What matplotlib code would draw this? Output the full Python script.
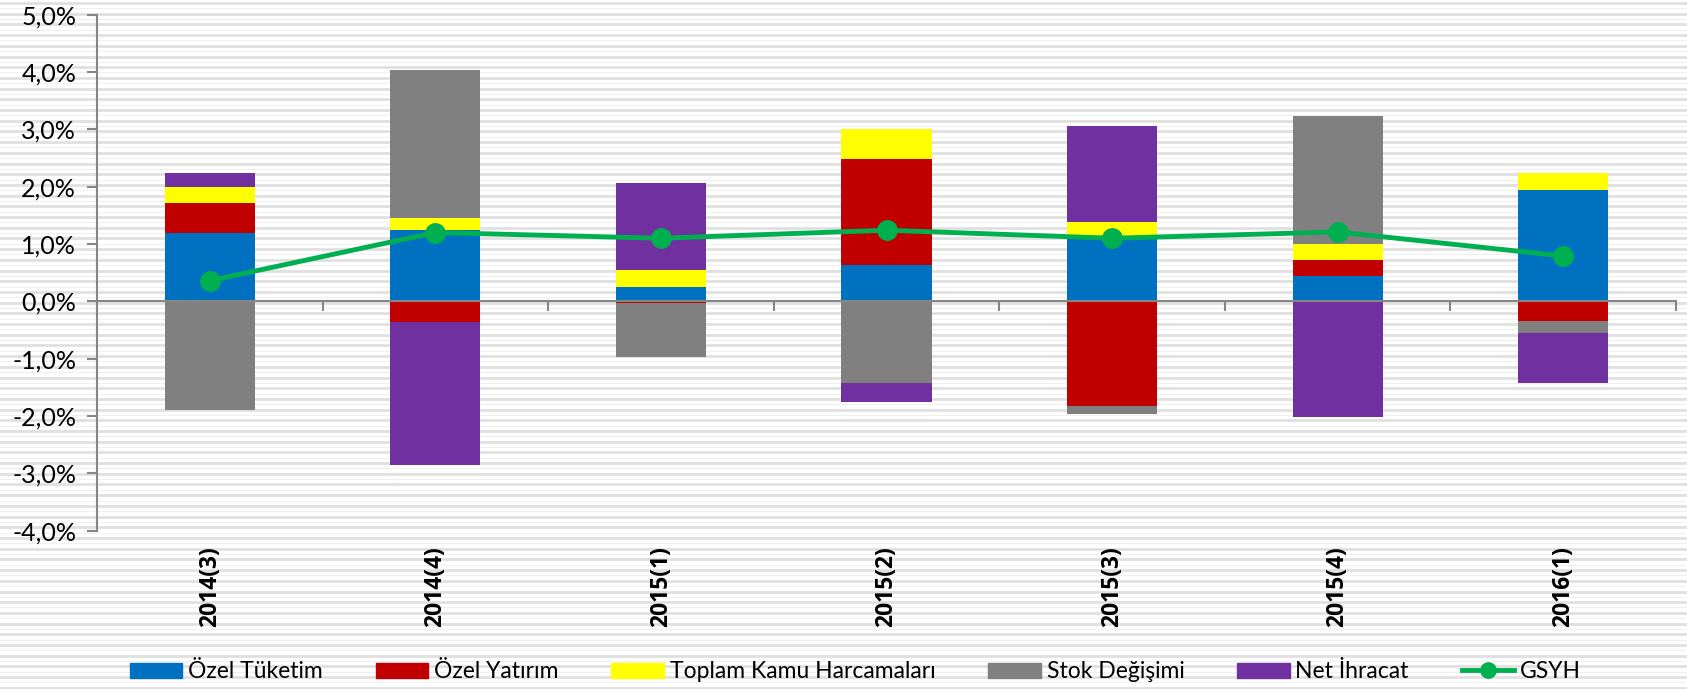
import matplotlib
matplotlib.use('Agg')
import matplotlib.pyplot as plt
import numpy as np
from matplotlib.lines import Line2D
from matplotlib.patches import Patch

plt.rcParams['font.family'] = ['Lato', 'DejaVu Sans']

quarters = ['2014(3)', '2014(4)', '2015(1)', '2015(2)', '2015(3)', '2015(4)', '2016(1)']
ozel_tuketim = [1.19, 1.25, 0.25, 0.63, 1.10, 0.45, 1.94]
ozel_yatirim = [0.53, -0.36, -0.03, 1.85, -1.82, 0.27, -0.35]
kamu = [0.28, 0.20, 0.30, 0.52, 0.28, 0.28, 0.30]
stok = [-1.90, 2.59, -0.94, -1.42, -0.14, 2.24, -0.21]
net_ihracat = [0.23, -2.50, 1.51, -0.34, 1.68, -2.02, -0.86]
gsyh = [0.36, 1.20, 1.10, 1.24, 1.10, 1.21, 0.79]

series = [('Özel Tüketim', ozel_tuketim, '#0070C0'),
          ('Özel Yatırım', ozel_yatirim, '#C00000'),
          ('Toplam Kamu Harcamaları', kamu, '#FFFF00'),
          ('Stok Değişimi', stok, '#808080'),
          ('Net İhracat', net_ihracat, '#7030A0')]

fig = plt.figure(figsize=(16.87, 6.89), dpi=100)

# striped background
bg = fig.add_axes([0, 0, 1, 1], zorder=-5)
bg.set_xlim(0, 1687)
bg.set_ylim(689, 0)
bg.axis('off')
for yy in np.arange(3, 689, 10.7):
    bg.axhline(yy, color='#e0e0e0', lw=2.0)
    bg.axhline(yy + 5.3, color='#f0f0f0', lw=0.8)

ax = fig.add_axes([97/1687, 1 - 530.7/689, (1676-97)/1687, (530.7-14.6)/689])
ax.set_facecolor('none')

x = np.arange(len(quarters))
pos_base = np.zeros(len(quarters))
neg_base = np.zeros(len(quarters))
for name, vals, col in series:
    v = np.array(vals)
    base = np.where(v >= 0, pos_base, neg_base)
    ax.bar(x, v, 0.4, bottom=base, color=col, label=name, zorder=2)
    pos_base += np.where(v >= 0, v, 0)
    neg_base += np.where(v < 0, v, 0)

ax.plot(x, gsyh, color='#00B050', lw=3.5, marker='o', markersize=14, label='GSYH', zorder=4)

ax.set_xlim(-0.5, len(quarters) - 0.5)
ax.set_ylim(-4, 5)
ax.set_yticks(np.arange(-4, 6, 1))
ax.set_yticklabels([f'{v:.1f}%'.replace('.', ',') for v in np.arange(-4, 6, 1)], fontsize=18)
ax.tick_params(axis='y', direction='out', length=7, color='#868686', width=1.5, pad=8)

for s in ['top', 'right']:
    ax.spines[s].set_visible(False)
ax.spines['left'].set_color('#868686')
ax.spines['left'].set_linewidth(1.5)
ax.spines['bottom'].set_position(('data', 0))
ax.spines['bottom'].set_color('#868686')
ax.spines['bottom'].set_linewidth(1.5)
ax.spines['bottom'].set_zorder(3)
ax.set_xticks(np.arange(-0.5, len(quarters), 1))
ax.set_xticklabels([])
ax.tick_params(axis='x', direction='out', length=7, color='#868686', width=1.5)

sec = ax.secondary_xaxis('bottom')
sec.set_xticks(x)
sec.set_xticklabels(quarters, rotation=90, fontsize=16.5, fontweight='bold',
                    family=['Open Sans', 'DejaVu Sans'])
sec.tick_params(length=0, pad=11)
sec.spines['bottom'].set_visible(False)

handles = [Patch(color=col, label=name) for name, vals, col in series]
handles.append(Line2D([], [], color='#00B050', lw=3.5, marker='o', markersize=11, label='GSYH'))
fig.legend(handles=handles, loc='center', bbox_to_anchor=(0.507, 0.025), ncol=6,
           frameon=False, fontsize=16.5, handlelength=2.3, handleheight=0.65,
           handletextpad=0.25, columnspacing=2.3)

fig.savefig('out.png', dpi=100)
